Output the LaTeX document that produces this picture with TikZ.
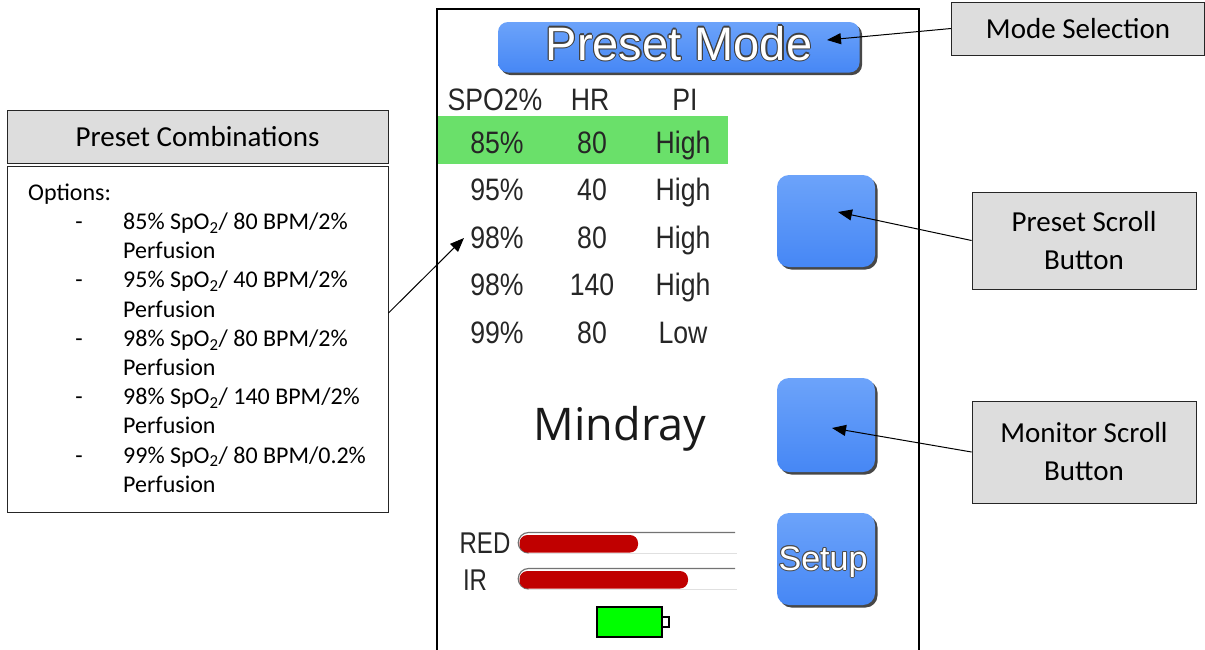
\documentclass[tikz,border=0pt]{standalone}
\usepackage{graphicx}
\usepackage{fontspec}
\setmainfont{Carlito}
\newfontfamily\libsans{Liberation Sans}
\newfontfamily\opsans{Open Sans}
\usetikzlibrary{arrows.meta}
\definecolor{lblgray}{RGB}{221,221,221}
\definecolor{btntop}{RGB}{108,163,250}
\definecolor{btnbot}{RGB}{70,135,245}
\definecolor{rowgreen}{RGB}{106,224,106}
\definecolor{barred}{RGB}{192,0,0}
\definecolor{batgreen}{RGB}{0,255,0}
\tikzset{
  lbl/.style={draw=black!85, fill=lblgray, line width=0.9pt, inner sep=0pt, align=center,
              font=\fontsize{29}{38}\selectfont},
  callout/.style={line width=1pt, -{Triangle[length=14pt,width=11pt]}},
  btnshadow/.style={rounded corners=12pt, fill=black!72},
  btn/.style={rounded corners=12pt, top color=btntop, bottom color=btnbot},
  tbl/.style={font=\libsans\fontsize{31}{31}\selectfont, anchor=base, inner sep=0pt, text=black!85},
  body/.style={font=\fontsize{24}{29}\selectfont, anchor=base west, inner sep=0pt},
  bigtxt/.style={font=\libsans\fontsize{47}{47}\selectfont, anchor=base, inner sep=0pt},
  setuptxt/.style={font=\libsans\fontsize{34}{34}\selectfont, anchor=base, inner sep=0pt},
}
\newcommand{\narrow}[1]{\scalebox{0.86}[1]{#1}}
\begin{document}
\begin{tikzpicture}[x=1pt,y=-1pt]
\useasboundingbox (0,0) rectangle (1205,649);

% ---------- device frame ----------
\draw[line width=2pt] (437,652) -- (437,9) -- (919,9) -- (919,652);

% ---------- Preset Mode button ----------
\fill[btnshadow, rounded corners=10pt] (500.5,24.5) rectangle (862,75);
\shade[btn, rounded corners=10pt] (498,22) rectangle (859.5,72.5);
\coordinate (pmc) at (679,60);
\foreach \dx/\dy in {-1.1/0,1.1/0,0/-1.1,0/1.1,-0.8/-0.8,0.8/0.8,-0.8/0.8,0.8/-0.8}
  \node[bigtxt, text=black!75] at ([shift={(\dx,\dy)}]pmc) {Preset Mode};
\node[bigtxt, text=white] (pm) at (pmc) {Preset Mode};

% ---------- table ----------
\fill[rowgreen] (438,116) rectangle (728,164);
\node[tbl] (h1) at (495,110) {\narrow{SPO2\%}};
\node[tbl] (h2) at (590,110) {\narrow{HR}};
\node[tbl] (h3) at (685,110) {\narrow{PI}};
\foreach \a/\b/\c [count=\i] in {85\%/80/High, 95\%/40/High, 98\%/80/High, 98\%/140/High, 99\%/80/Low}{
  \pgfmathsetmacro{\yy}{153+47.5*(\i-1)}
  \node[tbl] (ra\i) at (497,\yy) {\narrow{\a}};
  \node[tbl] (rb\i) at (592,\yy) {\narrow{\b}};
  \node[tbl] (rc\i) at (683,\yy) {\narrow{\c}};
}

% ---------- scroll buttons ----------
\fill[btnshadow] (779.5,177.5) rectangle (877.5,269.5);
\shade[btn] (777,175) rectangle (875,267);
\fill[btnshadow] (779.5,380.5) rectangle (877.5,474.5);
\shade[btn] (777,378) rectangle (875,472);

% ---------- Mindray ----------
\node[font=\opsans\fontsize{45}{45}\selectfont, anchor=base, inner sep=0pt, text=black!90] (mind) at (620,440) {Mindray};

% ---------- Setup button ----------
\fill[btnshadow] (779.5,515.5) rectangle (877.5,607.5);
\shade[btn] (777,513) rectangle (875,605);
\coordinate (suc) at (823,570);
\foreach \dx/\dy in {-1/0,1/0,0/-1,0/1,-0.7/-0.7,0.7/0.7,-0.7/0.7,0.7/-0.7}
  \node[setuptxt, text=black!70] at ([shift={(\dx,\dy)}]suc) {Setup};
\node[setuptxt, text=white] (setup) at (suc) {Setup};

% ---------- RED / IR bars ----------
\node[font=\libsans\fontsize{30}{30}\selectfont, anchor=base, inner sep=0pt, text=black!85] (red) at (485,553) {\scalebox{0.8}[1]{RED}};
\node[font=\libsans\fontsize{30}{30}\selectfont, anchor=base, inner sep=0pt, text=black!85] (ir) at (475,590) {\scalebox{0.8}[1]{IR}};
\foreach \ty/\rx in {532/638, 568/688}{
  \draw[black!12, line width=1pt] (528,\ty+21) -- (737,\ty+21);
  \draw[black!55, line width=1.2pt] (735,\ty+0.5) -- (528.5,\ty+0.5) arc[start angle=270, end angle=90, radius=10.25];
  \fill[barred, rounded corners=8pt] (519.5,\ty+3) rectangle (\rx,\ty+20.5);
}

% ---------- battery ----------
\draw[line width=1.2pt, fill=batgreen] (597,607) rectangle (662,637);
\draw[line width=1.2pt, fill=white] (662,617) rectangle (669,627);

% ---------- callout labels ----------
\node[lbl, minimum width=253pt, minimum height=53pt] (modesel) at (1078,28.5) {Mode Selection};
\node[lbl, minimum width=224pt, minimum height=97pt] (presetsb) at (1084,240.5) {Preset Scroll\\Button};
\node[lbl, minimum width=224pt, minimum height=102pt] (monsb) at (1084,452) {Monitor Scroll\\Button};
\node[lbl, minimum width=381pt, minimum height=53pt] (combhead) at (197.5,136.5) {Preset Combinations};
\node[draw=black!85, line width=0.9pt, minimum width=381pt, minimum height=346pt, inner sep=0pt] (combbody) at (197.5,339) {};

\node[body] (opt) at (28,200.5) {Options:};
\foreach \t [count=\i] in {{85\% SpO\textsubscript{2}/ 80 BPM/2\%}, {Perfusion},
                           {95\% SpO\textsubscript{2}/ 40 BPM/2\%}, {Perfusion},
                           {98\% SpO\textsubscript{2}/ 80 BPM/2\%}, {Perfusion},
                           {98\% SpO\textsubscript{2}/ 140 BPM/2\%}, {Perfusion},
                           {99\% SpO\textsubscript{2}/ 80 BPM/0.2\%}, {Perfusion}}{
  \pgfmathsetmacro{\yy}{229.5+29.2*(\i-1)}
  \node[body] (item\i) at (123,\yy) {\t};
}
\foreach \i in {0,...,4}{
  \pgfmathsetmacro{\yy}{229.5+58.4*\i}
  \node[body, anchor=base] (dash\i) at (79,\yy) {-};
}

% ---------- connectors ----------
\coordinate (tipMode) at (827,40);
\coordinate (tipPreset) at (838,212);
\coordinate (tipMon) at (832,428);
\coordinate (tipComb) at (464,238);
\draw[callout] (modesel.west) -- (tipMode);
\draw[callout] (presetsb.west) -- (tipPreset);
\draw[callout] (monsb.west) -- (tipMon);
\draw[callout] ([yshift=26pt]combbody.east) -- (tipComb);
\end{tikzpicture}
\end{document}
